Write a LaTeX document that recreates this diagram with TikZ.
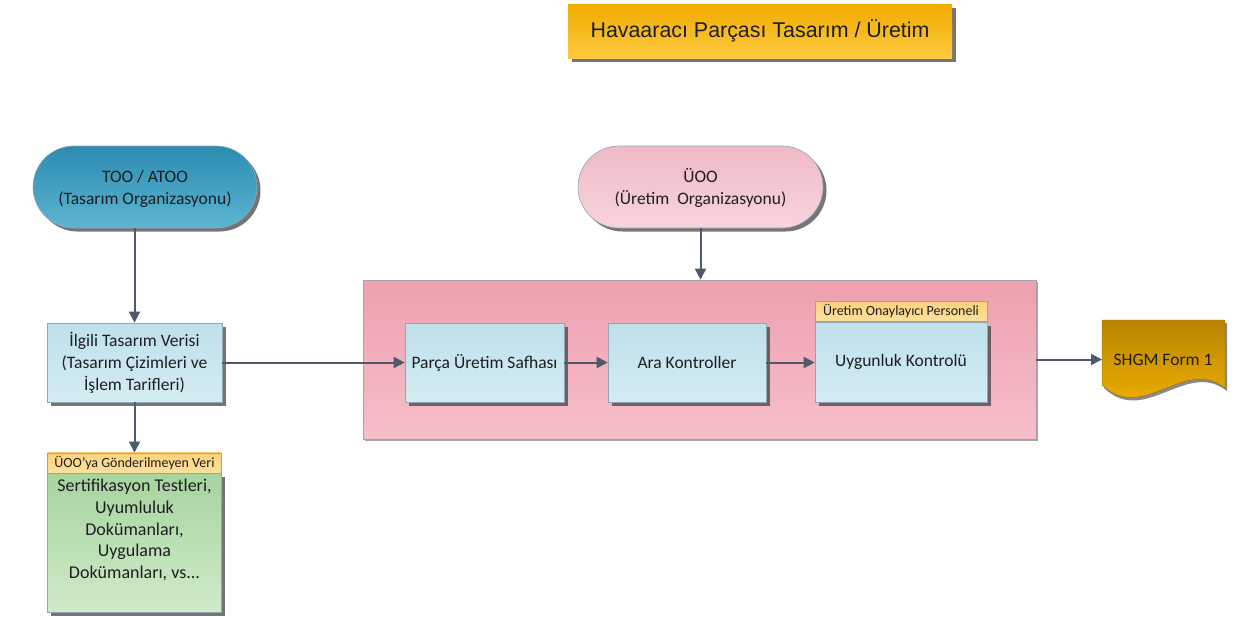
\documentclass[tikz,border=0pt]{standalone}
\usepackage{fontspec}
\setmainfont{Carlito}
\newfontfamily\titlefont{Liberation Sans}
\usetikzlibrary{shapes.misc,shadows,arrows.meta}

\definecolor{ink}{HTML}{1E1E22}
\definecolor{arrowc}{HTML}{4E5A6B}
\definecolor{edgec}{HTML}{95A5B8}
\definecolor{shadowc}{HTML}{3A3A3A}
\definecolor{titleTop}{HTML}{F1AC00}
\definecolor{titleBot}{HTML}{FCC93F}
\definecolor{tealTop}{HTML}{2C8CB0}
\definecolor{tealBot}{HTML}{5CB5D2}
\definecolor{rosTop}{HTML}{EFBAC5}
\definecolor{rosBot}{HTML}{F7D4DB}
\definecolor{prodTop}{HTML}{EEA0AE}
\definecolor{prodBot}{HTML}{F5BFCA}
\definecolor{prodEdge}{HTML}{A99FAE}
\definecolor{blueTop}{HTML}{BEE0EA}
\definecolor{blueBot}{HTML}{D4ECF2}
\definecolor{headTop}{HTML}{FCD27A}
\definecolor{headBot}{HTML}{FDE09C}
\definecolor{greenTop}{HTML}{A6D49E}
\definecolor{greenBot}{HTML}{D0EACA}
\definecolor{docTop}{HTML}{B88400}
\definecolor{docBot}{HTML}{F9B800}

\begin{document}
\begin{tikzpicture}[x=1pt,y=-1pt,
  bodyfont/.style={font=\fontsize{17.5}{22}\selectfont},
  boxshadow/.style={drop shadow={shadow xshift=3.5pt,shadow yshift=-3.5pt,fill=shadowc,opacity=0.7}},
  thinshadow/.style={drop shadow={shadow xshift=2pt,shadow yshift=-2pt,fill=shadowc,opacity=0.45}},
  titlebox/.style={rectangle,inner sep=0pt,minimum width=384pt,minimum height=54pt,
    top color=titleTop,bottom color=titleBot,boxshadow,text=ink,
    font=\titlefont\fontsize{21.4}{26}\selectfont},
  termbox/.style={rounded rectangle,inner sep=0pt,minimum height=82pt,draw=edgec,line width=0.6pt,
    boxshadow,text=ink,align=center,bodyfont},
  procbox/.style={rectangle,inner sep=0pt,minimum height=79pt,draw=edgec,line width=0.6pt,
    top color=blueTop,bottom color=blueBot,boxshadow,text=ink,align=center,bodyfont},
  headbox/.style={rectangle,inner sep=0pt,minimum height=20pt,draw=edgec,line width=0.5pt,
    top color=headTop,bottom color=headBot,text=ink,font=\fontsize{14}{15}\selectfont},
  flow/.style={draw=arrowc,line width=2pt,-{Triangle[length=11pt,width=11pt]}}
]
\useasboundingbox (0,0) rectangle (1238,616);

% title banner
\node[titlebox] (title) at (760,31) {Havaaracı Parçası Tasarım / Üretim};

% organisations
\node[termbox,minimum width=224pt,top color=tealTop,bottom color=tealBot] (too) at (145,187)
  {\strut TOO / ATOO\\(Tasarım Organizasyonu)};
\node[termbox,minimum width=245pt,top color=rosTop,bottom color=rosBot] (uoo) at (700.5,187)
  {\strut ÜOO\\(Üretim\ \ Organizasyonu)};

% design data
\node[procbox,minimum width=175pt] (ilgili) at (134.5,362.5)
  {İlgili Tasarım Verisi\\(Tasarım Çizimleri ve\\İşlem Tarifleri)};

% data not sent to the production organisation
\node[rectangle,inner sep=0pt,minimum width=174pt,minimum height=139pt,draw=edgec,line width=0.6pt,
  top color=greenTop,bottom color=greenBot,boxshadow,text=ink,anchor=north,
  font=\fontsize{18}{21.7}\selectfont] (nsBody) at (134.5,473)
  {\parbox[c][139pt][t]{174pt}{\centering\vspace*{6pt}Sertifikasyon Testleri,\\Uyumluluk\\Dokümanları,\\Uygulama\\Dokümanları, vs...}};
\node[headbox,minimum width=174pt,anchor=south] (nsHead) at (nsBody.north) {ÜOO’ya Gönderilmeyen Veri};

% production area
\node[rectangle,inner sep=0pt,minimum width=673pt,minimum height=159pt,draw=prodEdge,line width=0.7pt,
  top color=prodTop,bottom color=prodBot,thinshadow] (prod) at (699.5,359.5) {};
\node[procbox,minimum width=159pt] (parca) at (484.5,362.5) {Parça Üretim Safhası};
\node[procbox,minimum width=158pt] (ara) at (687,362.5) {Ara Kontroller};
\node[procbox,minimum width=172pt,minimum height=80pt] (uyg) at (901,362) {Uygunluk Kontrolü};
\node[headbox,minimum width=172pt,anchor=south] (uygHead) at (uyg.north) {Üretim Onaylayıcı Personeli};

% output document
\path[top color=docTop,bottom color=docBot,draw=docTop!80!black,line width=0.3pt,
  drop shadow={shadow xshift=2pt,shadow yshift=-3pt,fill=shadowc,opacity=0.6}]
  (1102,320) -- (1225,320) -- (1225,388) .. controls (1184,356) and (1143,424) .. (1102,385) -- cycle;
\node[text=ink,bodyfont] (shgm) at (1163,360) {SHGM Form 1};
\coordinate (shgmIn) at (1102,359.5);

% connectors
\draw[flow] (ilgili |- too.south) -- (ilgili.north);
\draw[flow] (ilgili.south) -- (nsHead.north);
\draw[flow] (ilgili.east) -- (parca.west);
\draw[flow] (uoo.south) -- (prod.north -| uoo.south);
\draw[flow] (parca.east) -- (ara.west);
\draw[flow] (ara.east) -- (ara.east -| uyg.west);
\draw[flow] (prod.east) -- (shgmIn);
\end{tikzpicture}
\end{document}
